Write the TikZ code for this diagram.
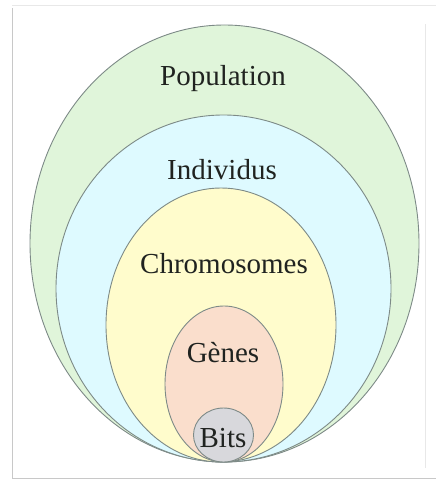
\documentclass[tikz,border=0pt]{standalone}
\usepackage{fontspec}
\setmainfont{Liberation Serif}
\definecolor{popfill}{RGB}{224,245,218}
\definecolor{indfill}{RGB}{222,250,255}
\definecolor{chrfill}{RGB}{255,252,204}
\definecolor{genfill}{RGB}{250,222,204}
\definecolor{bitfill}{RGB}{216,216,220}
\definecolor{rim}{RGB}{125,138,135}
\definecolor{ink}{RGB}{32,35,32}
\definecolor{frameline}{RGB}{200,200,200}
\definecolor{framelight}{RGB}{232,232,232}
\begin{document}
\begin{tikzpicture}[x=1pt,y=-1pt,
  layer/.style={draw=rim,line width=0.9pt},
  label/.style={text=ink,draw=ink,line width=0.25pt,font=\fontsize{29}{32}\selectfont,inner sep=0pt,anchor=center}]
\useasboundingbox (0,0) rectangle (436,481);
% page frame with its shadow on the left and bottom
\draw[framelight,line width=1pt] (12,6) -- (436,6);
\draw[framelight,line width=0.8pt] (425,24) -- (425,468);
\draw[frameline,line width=1.6pt] (12.5,8) -- (12.5,479);
\draw[frameline,line width=1.6pt] (12,478.5) -- (436,478.5);
% nested sets, all touching at the bottom
\filldraw[layer,fill=popfill] (224.5,243.5) ellipse [x radius=194.5,y radius=218.5];
\filldraw[layer,fill=indfill] (223.5,288.5) ellipse [x radius=167.5,y radius=173.5];
\filldraw[layer,fill=chrfill] (221,325) ellipse [x radius=115,y radius=137];
\filldraw[layer,fill=genfill] (224,384) ellipse [x radius=59,y radius=78];
\filldraw[layer,fill=bitfill] (223.5,435) ellipse [x radius=30,y radius=27];
% names of the sets
\tikzset{label/.append style={draw=none}}
\node[label] (pop) at (223,79) {Population};
\node[label] (ind) at (222,170) {Individus};
\node[label] (chr) at (224,264) {Chromosomes};
\node[label] (gen) at (223,353) {Gènes};
\node[label] (bit) at (223,438) {Bits};
\end{tikzpicture}
\end{document}
